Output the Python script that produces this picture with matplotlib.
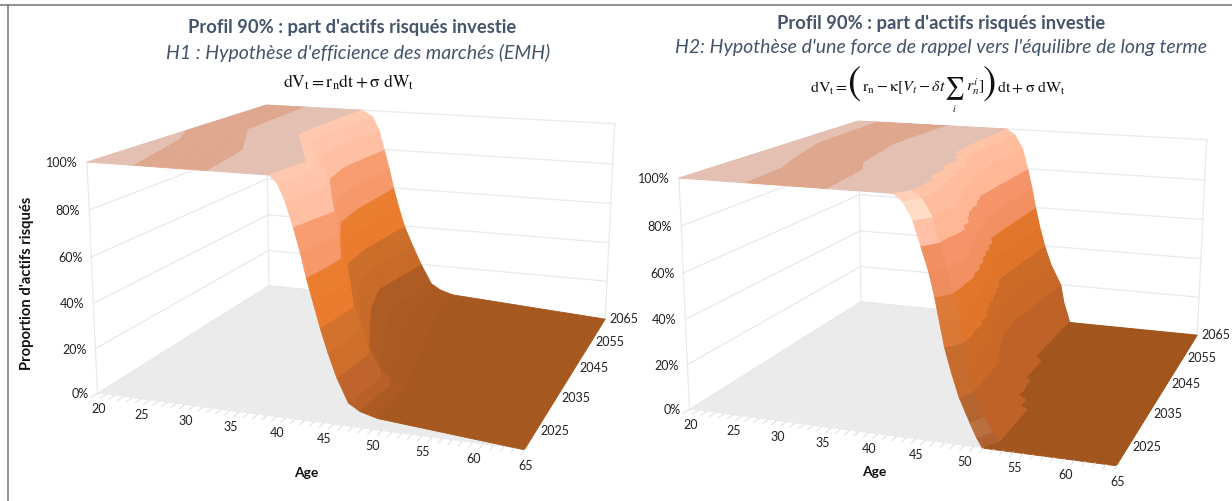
import numpy as np
import matplotlib
matplotlib.use('Agg')
import matplotlib.pyplot as plt
from matplotlib.lines import Line2D
from mpl_toolkits.mplot3d import proj3d
from mpl_toolkits.mplot3d.art3d import Poly3DCollection

plt.rcParams['font.family'] = ['Lato', 'DejaVu Sans']
plt.rcParams['mathtext.fontset'] = 'stix'

# ---------- data ----------
age_ticks = [20, 25, 30, 35, 40, 45, 50, 55, 60, 65]
year_ticks = [2025, 2035, 2045, 2055, 2065]
pct_ticks = [0, 20, 40, 60, 80, 100]

# Share of risky assets (columns) reached at the listed age, one row per year
levels_h1 = [100, 97, 90, 80, 70, 60, 50, 40, 30, 20, 10, 7, 5]
years_h1 = [2020, 2024, 2028, 2036, 2044, 2052, 2065]
ages_h1 = [
    [39.6, 40.4, 41.2, 42.0, 42.7, 43.3, 44.0, 44.7, 45.5, 46.4, 47.6, 48.8, 50.6],
    [39.9, 40.8, 41.7, 42.5, 43.1, 43.6, 44.3, 45.0, 45.8, 46.7, 47.9, 49.0, 50.7],
    [40.2, 41.2, 42.2, 43.1, 43.5, 43.8, 44.5, 45.2, 46.0, 46.9, 48.1, 49.2, 50.6],
    [36.6, 38.2, 39.2, 39.8, 40.4, 40.8, 41.4, 42.0, 43.0, 44.2, 45.8, 47.4, 49.4],
    [33.0, 34.2, 35.5, 36.6, 37.3, 37.9, 38.3, 38.7, 40.0, 41.6, 43.5, 45.5, 48.2],
    [32.9, 34.0, 34.8, 35.5, 36.4, 37.3, 37.8, 38.2, 38.9, 39.9, 41.5, 43.5, 46.5],
    [33.1, 34.5, 35.4, 36.1, 36.8, 37.4, 38.1, 38.9, 40.0, 41.2, 42.6, 43.8, 45.5],
]
stripe_h1_left_years = [2020, 2036, 2042, 2065]
stripe_h1_left_ages = [25.2, 22.2, 20.0, 20.0]
stripe_h1_right_years = [2020, 2032, 2045, 2065]
stripe_h1_right_ages = [33.2, 31.5, 26.3, 25.4]

levels_h2 = [100, 97, 90, 80, 70, 60, 50, 40, 30, 20, 10, 4, 0]
years_h2 = [2020, 2022, 2026, 2030, 2033, 2036, 2039, 2042, 2045, 2050, 2065]
ages_h2 = [
    [42.9, 43.8, 44.8, 45.6, 46.4, 47.0, 47.5, 48.0, 48.7, 49.5, 50.6, 51.3, 51.9],
    [44.0, 45.0, 46.0, 46.7, 47.5, 48.1, 48.7, 49.2, 49.7, 50.2, 51.3, 52.2, 53.0],
    [43.9, 45.0, 46.2, 47.0, 47.6, 48.0, 48.4, 48.9, 49.4, 50.0, 51.2, 52.2, 53.0],
    [43.0, 44.2, 45.4, 46.3, 47.0, 47.5, 48.0, 48.4, 49.0, 49.8, 51.0, 52.2, 53.0],
    [43.0, 44.0, 45.0, 45.3, 46.1, 46.9, 47.3, 47.6, 48.2, 48.9, 50.0, 51.2, 52.0],
    [42.1, 43.0, 44.0, 44.6, 45.5, 46.2, 46.7, 47.1, 47.6, 48.1, 49.0, 50.0, 50.9],
    [42.2, 43.0, 43.8, 44.2, 45.0, 45.6, 46.1, 46.5, 47.0, 47.5, 48.6, 49.8, 50.7],
    [41.4, 42.1, 43.0, 43.5, 44.4, 45.0, 45.5, 45.9, 46.4, 47.1, 48.0, 49.1, 49.9],
    [40.3, 41.2, 42.2, 42.9, 43.6, 44.1, 44.6, 45.0, 45.8, 46.8, 47.8, 49.0, 49.9],
    [40.1, 41.2, 42.2, 42.9, 43.5, 44.0, 44.5, 45.0, 45.8, 46.9, 47.7, 48.3, 48.8],
    [40.1, 41.2, 42.2, 42.9, 43.5, 44.0, 44.6, 45.3, 46.2, 47.5, 48.0, 48.5, 48.8],
]
stripe_h2_left_years = [2020, 2029, 2034, 2046, 2065]
stripe_h2_left_ages = [27.4, 26.9, 25.6, 23.2, 22.7]
stripe_h2_right_years = [2020, 2031, 2035, 2048, 2065]
stripe_h2_right_ages = [36.2, 35.1, 33.5, 31.7, 32.2]

colors_h1 = ['#FFC9B0', '#FFC5AA', '#FFBFA3', '#F79D70', '#F5986A', '#EB7D2F',
             '#EA7B2D', '#D2722C', '#CE6E2A', '#BF652B', '#B86028', '#AC5A22']
rear_h1 = ['#FFC9B0', '#FFC5AA', '#FFBFA3', '#F79D70', '#F5986A', '#EB7D2F',
           '#EA7B2D', '#CB6E2A', '#C86A28', '#AF5C24', '#AC5A22', '#A95921']
tail_h1 = '#A6581F'
colors_h2 = ['#FFC4A6', '#FFBD9E', '#FFB796', '#F59468', '#F39062', '#E2772B',
             '#E0752A', '#CC6A27', '#CA6927', '#BE6228', '#BE6228', '#BE6228']
front_h2 = ['#FFD0B5', '#FFDCC5', '#FFC0A5', '#F08F62', '#EE8C5E', '#DC7A38',
            '#DA7836', '#C86C2D', '#C66B2D', '#B4652F', '#B9703F', '#B06030']
tail_h2 = '#A2551C'
plateau_light = '#E3C0B2'
plateau_dark = '#E0A78F'

title_text = "Profil 90% : part d'actifs risqués investie"
sub_h1 = "H1 : Hypothèse d'efficience des marchés (EMH)"
sub_h2 = "H2: Hypothèse d'une force de rappel vers l'équilibre de long terme"
eq_h1 = r"$\mathrm{dV_t = r_n dt + \sigma\ dW_t}$"
eq_h2_parts = [r"$\mathrm{dV_t} =$", r"$\mathrm{r_n - \kappa}[V_t - \delta t$",
               r"$r_n^i]$", r"$\mathrm{dt + \sigma\ dW_t}$"]

# ---------- camera and page layout ----------
W, H = 1232, 501
ELEV, AZIM, ROLL, FOCAL = 13.8207, -71.141, -0.3511, 0.4228
ASPECT = (1, 0.9942, 0.5389)
SCALE, TX, TY = 3205.661, 374.26, 249.139
TEXT_C = '#44546A'
GRID_C = '#E6E8EC'
FLOOR_C = '#EBEBEB'
LABEL_C = '#222222'
EQ_C = '#111111'


def row_age(y, years, col, stepped):
    """Age for one level column at year y, following the rows of the table."""
    if not stepped:
        return np.interp(y, years, col)
    i = min(np.searchsorted(years, y, side='right') - 1, len(years) - 2)
    y0, y1 = years[i], years[i + 1]
    if y1 - y0 > 6 or y0 == years[0]:
        return np.interp(y, [y0, y1], [col[i], col[i + 1]])
    hold = y0 + 0.65 * (y1 - y0)
    if y <= hold:
        return col[i]
    return np.interp(y, [hold, y1], [col[i], col[i + 1]])


def surface(years, ages, levels, colors, tail, sl, sr, stepped, front, rear):
    ages = np.array(ages)
    grid = []
    for a, b in zip(years[:-1], years[1:]):
        grid += list(np.linspace(a, b, max(2, int(b - a) * (3 if stepped else 1)), endpoint=False))
    grid.append(years[-1])
    polys, cols = [], []
    for y0, y1 in zip(grid[:-1], grid[1:]):
        a0 = [row_age(y0, years, ages[:, j], stepped) for j in range(len(levels))]
        a1 = [row_age(y1, years, ages[:, j], stepped) for j in range(len(levels))]
        band = colors
        if front is not None and y1 <= years[1]:
            band = front
        if rear is not None and y0 >= 2030:
            band = rear
        for j in range(len(levels) - 1):
            polys.append([(a0[j], y0, levels[j]), (a1[j], y1, levels[j]),
                          (a1[j + 1], y1, levels[j + 1]), (a0[j + 1], y0, levels[j + 1])])
            cols.append(band[j])
        polys.append([(a0[-1], y0, levels[-1]), (a1[-1], y1, levels[-1]),
                      (65, y1, 0), (65, y0, 0)])
        cols.append(tail)
        # plateau cut in its stripes
        l0, l1 = np.interp(y0, sl[0], sl[1]), np.interp(y1, sl[0], sl[1])
        r0, r1 = np.interp(y0, sr[0], sr[1]), np.interp(y1, sr[0], sr[1])
        for (p0, p1, q0, q1, c) in ((20, 20, l0, l1, plateau_light),
                                    (l0, l1, r0, r1, plateau_dark),
                                    (r0, r1, a0[0], a1[0], plateau_light)):
            if q0 > p0 or q1 > p1:
                polys.append([(p0, y0, 100), (p1, y1, 100), (q1, y1, 100), (q0, y0, 100)])
                cols.append(c)
    return polys, cols


def panel(fig, dx, dy, years, ages, levels, colors, tail, sl, sr, stepped, front=None, rear=None):
    ax = fig.add_axes([0, 0, 1, 1], projection='3d', computed_zorder=False)
    ax.set_xlim(20, 65); ax.set_ylim(2020, 2065); ax.set_zlim(0, 100)
    ax.view_init(ELEV, AZIM, ROLL)
    ax.set_proj_type('persp', focal_length=FOCAL)
    ax.set_box_aspect(ASPECT)
    ax.set_axis_off()
    vl = ax.viewLim
    left = TX + dx + SCALE * vl.x0
    right = TX + dx + SCALE * vl.x1
    top = TY + dy - SCALE * vl.y1
    bottom = TY + dy - SCALE * vl.y0
    ax.set_position([left / W, 1 - bottom / H, (right - left) / W, (bottom - top) / H])
    ax.patch.set_alpha(0)

    floor = Poly3DCollection([[(20, 2020, 0), (65, 2020, 0), (65, 2065, 0), (20, 2065, 0)]],
                             facecolors=FLOOR_C, edgecolors='none', zorder=1)
    ax.add_collection3d(floor)
    for p in pct_ticks:
        ax.plot([20, 20, 65], [2020, 2065, 2065], [p, p, p], color=GRID_C, lw=0.85, zorder=2)
    for a, y in ((20, 2020), (20, 2065), (65, 2065)):
        ax.plot([a, a], [y, y], [0, 100], color=GRID_C, lw=0.85, zorder=2)

    polys, cols = surface(years, ages, levels, colors, tail, sl, sr, stepped, front, rear)
    ax.add_collection3d(Poly3DCollection(polys, facecolors=cols, edgecolors=cols,
                                         linewidths=0.6, zsort='average', zorder=3))
    for a in range(20, 66):
        ax.plot([a, a], [2020, 2018.8], [0, 0], color='#DADDE2', lw=0.7, zorder=4)

    M = ax.get_proj()

    def label(x, y, z, s, ox, oy, ha):
        u, v, _ = proj3d.proj_transform(x, y, z, M)
        ax.annotate(s, (u, v), xytext=(ox * 0.72, oy * 0.72), textcoords='offset points',
                    ha=ha, va='center', fontsize=9, color=LABEL_C, zorder=5,
                    annotation_clip=False)

    for p in pct_ticks:
        label(20, 2020, p, f'{p}%', -9, -1, 'right')
    for a in age_ticks:
        label(a, 2020, 0, str(a), 1, -16, 'center')
    for y in year_ticks:
        label(65, y, 0, str(y), 19, 0, 'center')
    return ax


fig = plt.figure(figsize=(W / 100, H / 100), dpi=100)
fig.patch.set_facecolor('white')

ax1 = panel(fig, 0, 0, years_h1, ages_h1, levels_h1, colors_h1, tail_h1,
            (stripe_h1_left_years, stripe_h1_left_ages),
            (stripe_h1_right_years, stripe_h1_right_ages), False, rear=rear_h1)
ax2 = panel(fig, 592, 16, years_h2, ages_h2, levels_h2, colors_h2, tail_h2,
            (stripe_h2_left_years, stripe_h2_left_ages),
            (stripe_h2_right_years, stripe_h2_right_ages), True, front=front_h2)


def ftext(x, y, s, ha='center', **kw):
    fig.text(x / W, 1 - y / H, s, ha=ha, va='center', **kw)


ftext(352, 28, title_text, fontsize=13.2, fontweight='bold', color=TEXT_C)
ftext(358, 53, sub_h1, fontsize=14, style='italic', color=TEXT_C)
ftext(349, 82, eq_h1, fontsize=12.6, color=EQ_C)
ftext(941, 23, title_text, fontsize=13.2, fontweight='bold', color=TEXT_C)
ftext(941, 47, sub_h2, fontsize=14, style='italic', color=TEXT_C)

ftext(810, 88, eq_h2_parts[0], ha='left', fontsize=11.5, color=EQ_C)
ftext(854, 85, '(', family='STIXGeneral', fontsize=29, color=EQ_C)
ftext(862, 88, eq_h2_parts[1], ha='left', fontsize=11.5, color=EQ_C)
ftext(954, 89, r'$\sum$', fontsize=15.5, color=EQ_C)
ftext(954, 109, r'$i$', fontsize=7, color=EQ_C)
ftext(966, 87, eq_h2_parts[2], ha='left', fontsize=11.5, color=EQ_C)
ftext(990, 85, ')', family='STIXGeneral', fontsize=29, color=EQ_C)
ftext(997, 88, eq_h2_parts[3], ha='left', fontsize=11.5, color=EQ_C)

ftext(27, 283, "Proportion d'actifs risqués", fontsize=10.6, fontweight='bold',
      rotation=90, color='#111111')
ftext(306, 473, 'Age', fontsize=10, fontweight='bold', color='#111111')
ftext(874, 472, 'Age', fontsize=10, fontweight='bold', color='#111111')

fig.add_artist(Line2D([0, 1], [1 - 4.7 / H] * 2, color='#7F7F7F', lw=1.2))
fig.add_artist(Line2D([8 / W, 8 / W], [0, 1 - 4.7 / H], color='#7F7F7F', lw=1.2))

fig.savefig('out.png', dpi=100)
